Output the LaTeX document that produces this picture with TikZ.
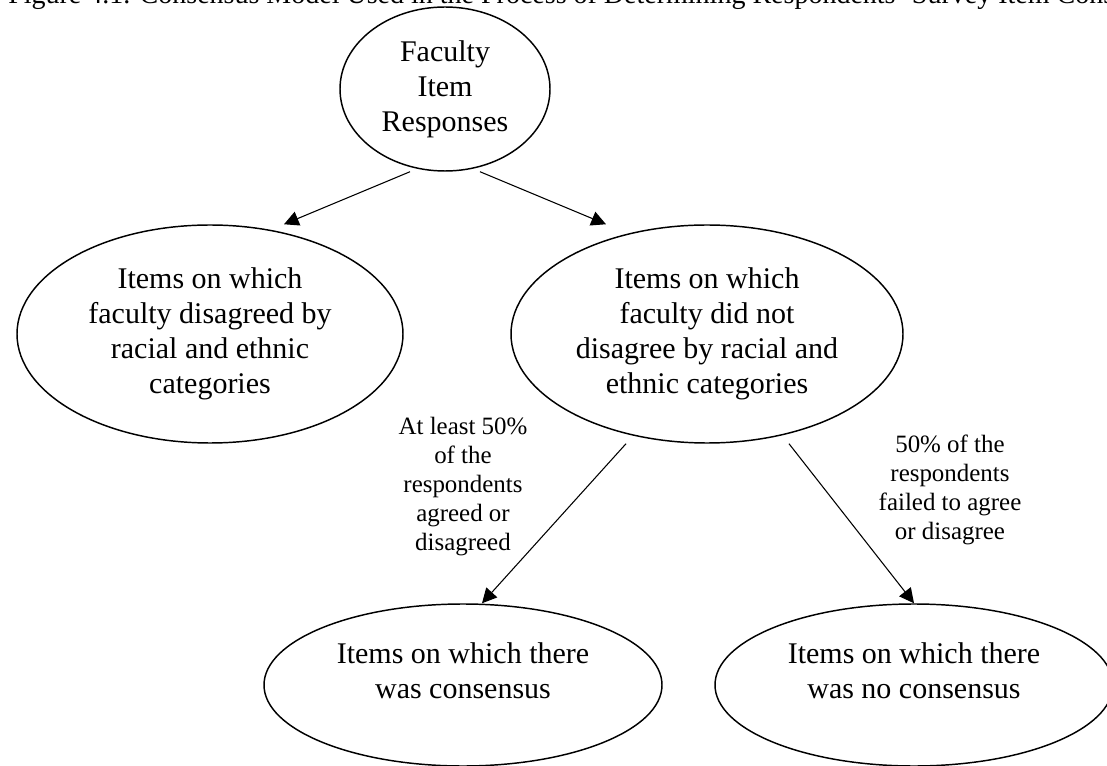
\documentclass[tikz,border=0pt]{standalone}
\usepackage{fontspec}
\setmainfont{Liberation Serif}
\usetikzlibrary{shapes.geometric}
\usetikzlibrary{arrows.meta}
\usetikzlibrary{calc}

\begin{document}
\begin{tikzpicture}[x=0.75pt,y=-0.75pt,
    oval/.style={draw,ellipse,line width=1.1pt,inner sep=0pt,align=center,font=\fontsize{22.5}{26.25}\selectfont},
    lbl/.style={align=center,inner sep=0pt,font=\fontsize{18.7}{21.75}\selectfont},
    arr/.style={line width=0.8pt,-{Triangle[length=11pt,width=11pt]}}]
    \useasboundingbox (0,0) rectangle (1107,766);
    % caption, cut off at the top edge
    \begin{scope}
    \clip (0,0) rectangle (1107,766);
    \node[anchor=base west,inner sep=0pt,font=\fontsize{21}{26.25}\selectfont] (caption) at (8,4) {Figure 4.1. Consensus Model Used in the Process of Determining Respondents' Survey Item Consensus};
    \end{scope}
    \node[oval,minimum width=157.5pt,minimum height=123pt] (faculty) at (445,89) {Faculty\\Item\\Responses};
    \node[oval,minimum width=289.5pt,minimum height=163.5pt] (disagree) at (210,334) {Items on which\\faculty disagreed by\\racial and ethnic\\categories};
    \node[oval,minimum width=294pt,minimum height=163.5pt] (notdisagree) at (707,334) {Items on which\\faculty did not\\disagree by racial and\\ethnic categories};
    \node[oval,minimum width=298.5pt,minimum height=121.5pt,text depth=22pt] (consensus) at (463,685) {Items on which there\\was consensus};
    \node[oval,minimum width=298.5pt,minimum height=121.5pt,text depth=22pt] (noconsensus) at (914,685) {Items on which there\\was no consensus};
    \node[lbl] (agreelbl) at (463,487) {At least 50\%\\of the\\respondents\\agreed or\\disagreed};
    \node[lbl] (faillbl) at (950,490) {50\% of the\\respondents\\failed to agree\\or disagree};
    \draw[arr] ($(faculty.south)+(-35,0)$) -- ($(disagree.north)+(74,0)$);
    \draw[arr] ($(faculty.south)+(35,0)$) -- ($(notdisagree.north)+(-101,0)$);
    \draw[arr] ($(notdisagree.south)+(-81,0)$) -- ($(consensus.north)+(19,0)$);
    \draw[arr] ($(notdisagree.south)+(82,0)$) -- (noconsensus.north);
\end{tikzpicture}
\end{document}
